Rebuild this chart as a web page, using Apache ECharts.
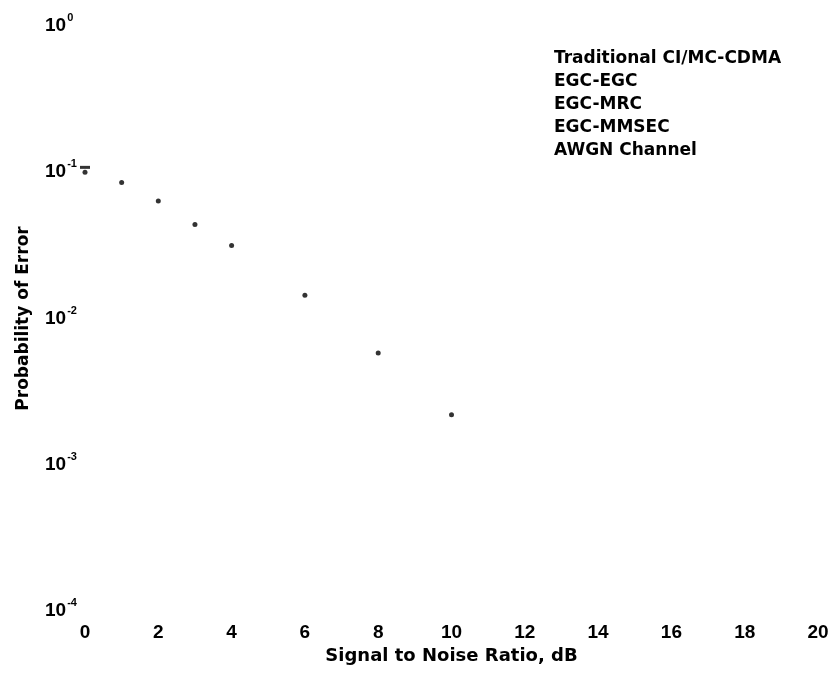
<!DOCTYPE html>
<html>
<head>
<meta charset="utf-8">
<script src="https://cdn.jsdelivr.net/npm/echarts@6/dist/echarts.min.js"></script>
<style>
  html, body { margin: 0; padding: 0; background: #fff; }
  #chart { width: 834px; height: 677px; }
</style>
</head>
<body>
<div id="chart"></div>
<script>
const seriesNames = ['Traditional CI/MC-CDMA', 'EGC-EGC', 'EGC-MRC', 'EGC-MMSEC', 'AWGN Channel']

// only the marks that survive in the scan
const snrA = [0, 1, 2, 3, 4, 6, 8, 10]
const berA = [0.1, 0.085, 0.0635, 0.044, 0.0315, 0.0144, 0.0058, 0.0022]
const snrB = [0]
const berB = [0.108]

const xTicks = [0, 2, 4, 6, 8, 10, 12, 14, 16, 18, 20]

const tickFont = '"Liberation Sans", Arial, sans-serif'
const textFont = '"DejaVu Sans", "Liberation Sans", sans-serif'

const toPairs = (xs, ys) => xs.map((x, i) => [x, ys[i]])

const chart = echarts.init(document.getElementById('chart'))

const option = {
  backgroundColor: '#fff',
  animation: false,
  textStyle: { fontFamily: tickFont, color: '#000' },
  grid: { left: 85, right: 16, top: 26, bottom: 66, containLabel: false, outerBoundsMode: 'none' },
  legend: {
    orient: 'vertical',
    left: 523,
    top: 50,
    padding: 0,
    itemWidth: 25,
    itemHeight: 14,
    itemGap: 6,
    itemStyle: { opacity: 0 },
    lineStyle: { opacity: 0 },
    textStyle: { fontFamily: textFont, fontWeight: 'bold', fontSize: 17, color: '#000' },
    data: seriesNames
  },
  xAxis: {
    type: 'value',
    min: 0,
    max: 20,
    interval: 2,
    name: 'Signal to Noise Ratio, dB',
    nameLocation: 'middle',
    nameGap: 32,
    nameTextStyle: { fontFamily: textFont, fontWeight: 'bold', fontSize: 18, color: '#000' },
    axisLine: { show: false },
    axisTick: { show: false },
    splitLine: { show: false },
    axisLabel: {
      margin: 12,
      fontFamily: tickFont, fontWeight: 'bold', fontSize: 19, color: '#000',
      formatter: v => xTicks.includes(v) ? String(v) : ''
    }
  },
  yAxis: {
    type: 'log',
    logBase: 10,
    min: 0.0001,
    max: 1,
    name: 'Probability of Error',
    nameLocation: 'middle',
    nameGap: 53,
    nameTextStyle: { fontFamily: textFont, fontWeight: 'bold', fontSize: 17, color: '#000' },
    axisLine: { show: false },
    axisTick: { show: false },
    splitLine: { show: false },
    axisLabel: {
      align: 'left',
      margin: 40,
      formatter: v => '{b|10}{s|' + Math.round(Math.log10(v)) + '}',
      rich: {
        b: { fontFamily: tickFont, fontWeight: 'bold', fontSize: 19, color: '#000' },
        s: { fontFamily: tickFont, fontWeight: 'bold', fontSize: 11, color: '#000', padding: [0, 0, 16, 1] }
      }
    }
  },
  series: [
    {
      name: seriesNames[0],
      type: 'scatter',
      symbol: 'circle',
      symbolSize: 5,
      itemStyle: { color: '#000' },
      data: toPairs(snrA, berA)
    },
    {
      name: seriesNames[1],
      type: 'scatter',
      symbol: 'rect',
      symbolSize: [10, 3],
      itemStyle: { color: '#000' },
      data: toPairs(snrB, berB)
    },
    { name: seriesNames[2], type: 'line', data: [] },
    { name: seriesNames[3], type: 'line', data: [] },
    { name: seriesNames[4], type: 'line', data: [] }
  ]
}

chart.setOption(option)
</script>
</body>
</html>
